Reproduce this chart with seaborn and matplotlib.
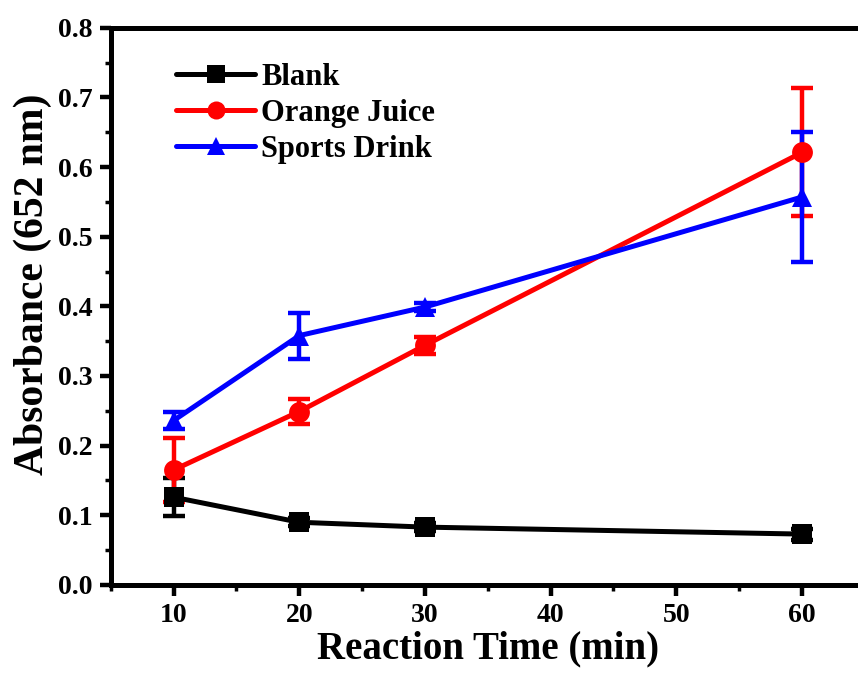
import matplotlib
matplotlib.use("Agg")
import matplotlib.pyplot as plt
import seaborn as sns
import pandas as pd
from matplotlib.ticker import MultipleLocator

# Reaction time points (min)
times = [10, 20, 30, 60]

# Mean absorbance at 652 nm and standard deviations
blank_mean = [0.126, 0.090, 0.083, 0.073]
blank_sd = [0.027, 0.006, 0.006, 0.008]
oj_mean = [0.165, 0.249, 0.344, 0.621]
oj_sd = [0.046, 0.018, 0.012, 0.092]
sports_mean = [0.236, 0.358, 0.399, 0.557]
sports_sd = [0.012, 0.033, 0.006, 0.094]

series_names = ["Blank", "Orange Juice", "Sports Drink"]
series_colors = ["#000000", "#ff0000", "#0000ff"]
series_markers = ["s", "o", "^"]

means = [blank_mean, oj_mean, sports_mean]
sds = [blank_sd, oj_sd, sports_sd]

rows = []
for name, m in zip(series_names, means):
    for t, v in zip(times, m):
        rows.append({"Time": t, "Absorbance": v, "Sample": name})
df = pd.DataFrame(rows)

sns.set_style("ticks")
plt.rcParams["font.family"] = ["Liberation Serif", "DejaVu Serif"]
plt.rcParams["font.weight"] = "bold"
plt.rcParams["text.color"] = "black"
plt.rcParams["axes.labelcolor"] = "black"
plt.rcParams["xtick.color"] = "black"
plt.rcParams["ytick.color"] = "black"

fig = plt.figure(figsize=(8.58, 6.77), dpi=100)
ax = fig.add_axes([0.129, 0.136, 0.879, 0.823])

# Error bars first so lines and markers sit on top
for name, m, s, c in zip(series_names, means, sds, series_colors):
    ax.errorbar(times, m, yerr=s, fmt="none", ecolor=c, elinewidth=3.2,
                capsize=8, capthick=3.2, zorder=2)

sns.lineplot(data=df, x="Time", y="Absorbance", hue="Sample", style="Sample",
             hue_order=series_names, style_order=series_names,
             palette=dict(zip(series_names, series_colors)),
             markers=dict(zip(series_names, series_markers)),
             dashes=False, linewidth=3.6, markersize=15, markeredgewidth=0,
             ax=ax, zorder=3)

ax.set_xlim(5, 65)
ax.set_ylim(0, 0.8)
ax.xaxis.set_minor_locator(MultipleLocator(5))
ax.yaxis.set_minor_locator(MultipleLocator(0.05))
ax.set_xticks([10, 20, 30, 40, 50, 60])
ax.set_yticks([0.0, 0.1, 0.2, 0.3, 0.4, 0.5, 0.6, 0.7, 0.8])
ax.set_yticklabels(["0.0", "0.1", "0.2", "0.3", "0.4", "0.5", "0.6", "0.7", "0.8"])

for sp in ax.spines.values():
    sp.set_linewidth(3.6)
    sp.set_color("black")

ax.tick_params(axis="both", which="major", direction="out", length=8, width=3.2,
               labelsize=20, pad=5, color="black", labelcolor="black")
ax.tick_params(axis="both", which="minor", direction="out", length=4, width=2.5,
               color="black")
ax.tick_params(top=False, right=False, which="both")
for lab in ax.get_xticklabels() + ax.get_yticklabels():
    lab.set_fontweight("bold")

ax.set_xlabel("Reaction Time (min)", fontsize=28, fontweight="bold", labelpad=2,
              color="black")
ax.set_ylabel("Absorbance (652 nm)", fontsize=30, fontweight="bold",
              color="black")
ax.yaxis.set_label_coords(-0.078, 0.54)

leg = ax.legend(loc="upper left", bbox_to_anchor=(0.058, 0.975), frameon=False,
                prop={"weight": "bold", "size": 22},
                handlelength=2.6, handletextpad=0.2, labelspacing=0.22,
                borderaxespad=0.3)
for h in leg.legend_handles:
    h.set_linewidth(3.6)
    h.set_markersize(13)
for t in leg.get_texts():
    t.set_color("black")

fig.savefig("out.png", dpi=100)
